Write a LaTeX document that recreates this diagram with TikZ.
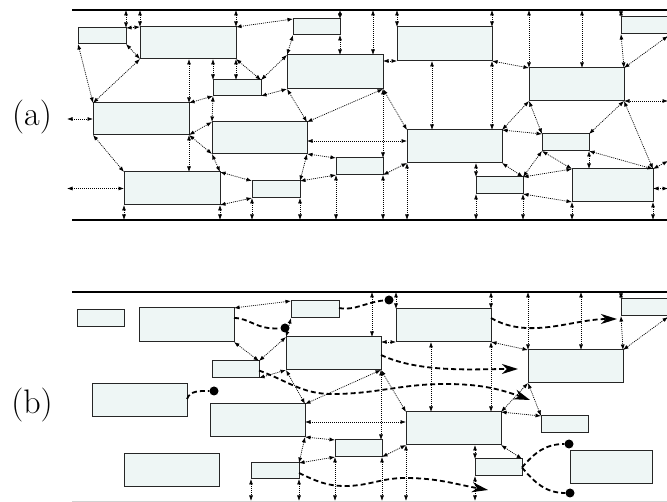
\documentclass[tikz,border=0pt]{standalone}
\usetikzlibrary{arrows.meta,calc}
\definecolor{boxfill}{HTML}{EEF6F5}
\newcommand\mkbox[5]{\node[bx, minimum width={(#4)-(#2)}, minimum height={(#5)-(#3)}] (#1) at ({((#2)+(#4))/2},{((#3)+(#5))/2}) {};}
\begin{document}
\begin{tikzpicture}[x=1pt,y=-1pt,
  bx/.style={draw=black!85, line width=1pt, fill=boxfill, inner sep=0pt, outer sep=0pt},
  con/.style={dash pattern=on 1pt off 1pt, line width=0.7pt, {Latex[length=5.5pt,width=4pt]}-{Latex[length=5.5pt,width=4pt]}},
  rail/.style={line width=2pt},
  flow/.style={dash pattern=on 5pt off 3pt, line width=1.8pt},
  flowarr/.style={flow, -{Stealth[length=16pt,width=10pt,inset=5pt]}},
  blob/.style={circle, fill=black, inner sep=0pt, minimum size=9pt},
  lbl/.style={font=\fontsize{34}{40}\selectfont, inner sep=0pt}]
\useasboundingbox (0,0) rectangle (667,502);
\clip (0,0) rectangle (667,502);

% labels
\node[lbl] (la) at (32,117) {(a)};
\node[lbl] (lb) at (32,405) {(b)};

% rails
\draw[rail] (72,10) -- (667,10);
\draw[rail] (72,220) -- (667,220);
\draw[rail] (72,292) -- (667,292);
\draw[gray!35, line width=1pt] (72,501.5) -- (667,501.5);

\coordinate (ta) at (0,10);
\coordinate (ba) at (0,220);
\coordinate (tb) at (0,292);
\coordinate (bb) at (0,501);
\coordinate (lx) at (67,0);
\coordinate (rx) at (668,0);
\coordinate (h1) at (0,141);
\coordinate (h2) at (0,422);

% ---------------- panel (a) boxes
\mkbox{A1}{78}{28}{126}{44}
\mkbox{A2}{140}{27}{236}{59}
\mkbox{A3}{213}{80}{261}{96}
\mkbox{A4}{293}{19}{340}{35}
\mkbox{A5}{287}{55}{383}{89}
\mkbox{A6}{397}{27}{492}{61}
\mkbox{A7}{529}{68}{624}{101}
\mkbox{A8}{621}{17}{716}{34}
\mkbox{A9}{93}{103}{189}{135}
\mkbox{A10}{124}{172}{220}{205}
\mkbox{A11}{212}{122}{307}{154}
\mkbox{A12}{252}{181}{300}{198}
\mkbox{A13}{336}{158}{383}{175}
\mkbox{A14}{407}{130}{502}{163}
\mkbox{A15}{542}{134}{589}{151}
\mkbox{A16}{476}{177}{523}{194}
\mkbox{A17}{572}{169}{653}{202}

\coordinate (a5t) at ([xshift=-10pt]A5.north east);
\coordinate (a14t) at ([xshift=25pt]A14.north west);
\coordinate (a7t) at ([xshift=53pt]A7.north west);
\coordinate (ra1) at (668,36);
\coordinate (ra2) at (668,161);

% ---------------- panel (a) connectors
\draw[con] (A1.north east |- ta) -- (A1.north east);
\draw[con] (A2.north west |- ta) -- (A2.north west);
\draw[con] (A1.north east) -- (A2.north west);
\draw[con] (A1.south east) -- (A2.south west);
\draw[con] (A1.south west) -- (A9.north west);
\draw[con] (A2.south west) -- (A9.north west);
\draw[con] (A2.north east) -- (A4.north west);
\draw[con] (A2.north east |- ta) -- (A2.north east);
\draw[con] (A9.north east |- A2.south) -- (A9.north east);
\draw[con] (A3.north west |- A2.south) -- (A3.north west);
\draw[con] (A2.south east) -- (A2.south east |- A3.north);
\draw[con] (A2.south east) -- (A3.north east);
\draw[con] (A9.north east) -- (A3.south west);
\draw[con] (A3.south west) -- (A11.north west);
\draw[con] (A9.south east) -- (A11.north west);
\draw[con] (A9.south east) -- (A11.south west);
\draw[con] (A9.south east) -- (A9.south east |- A10.north);
\draw[con] (A9.south west) -- (A10.north west);
\draw[con] (A9.west -| lx) -- (A9.west);
\draw[con] (A10.west -| lx) -- (A10.west);
\draw[con] (A10.south west) -- (A10.south west |- ba);
\draw[con] (A10.south east) -- (A10.south east |- ba);
\draw[con] (A10.north east) -- (A12.north west);
\draw[con] (A10.south east) -- (A12.south west);
\draw[con] (A11.south west) -- (A10.north east);
\draw[con] (A5.south west) -- (A11.north east);
\draw[con] (A5.south east) -- (A11.north east);
\draw[con] (A3.south east) -- (A5.south west);
\draw[con] (A3.north east) -- (A5.north west);
\draw[con] (A5.north west) -- (A4.south west);
\draw[con] (A4.north east |- ta) -- (A4.north east);
\draw[con] (A4.south east) -- (A4.south east |- A5.north);
\draw[con] (a5t |- ta) -- (a5t);
\draw[con] (A6.north west |- ta) -- (A6.north west);
\draw[con] (A6.south west -| A5.east) -- (A6.south west);
\draw[con] (a14t |- A6.south) -- (a14t);
\draw[con] (A5.south east) -- (A5.south east |- A13.north);
\draw[con] (A5.south east) -- (A14.north west);
\draw[con] (A11.east |- h1) -- (A14.west |- h1);
\draw[con] (A11.south east) -- (A13.north west);
\draw[con] (A11.south east) -- (A12.north east);
\draw[con] (A12.north east) -- (A13.south west);
\draw[con] (A13.south east) -- (A14.south west);
\foreach \p in {A12.south west, A12.south east, A13.south west, A13.south east, A14.south west, A16.south west, A16.south east, A17.south west, A17.south east}
  \draw[con] (\p) -- (\p |- ba);
\draw[con] (A6.north east |- ta) -- (A6.north east);
\draw[con] (A7.north west |- ta) -- (A7.north west);
\draw[con] (a7t |- ta) -- (a7t);
\draw[con] (A8.north west |- ta) -- (A8.north west);
\draw[con] (A8.south west) -- (A7.north east);
\draw[con] (ra1) -- (A7.north east);
\draw[con] (A6.south east) -- (A7.north west);
\draw[con] (A6.south east) -- (A6.south east |- A14.north);
\draw[con] (A7.south west) -- (A14.north east);
\draw[con] (A7.south west) -- (A15.north west);
\draw[con] (A7.south east) -- (A15.north east);
\draw[con] (A7.south east) -- (A17.north east);
\draw[con] (A7.south east -| rx) -- (A7.south east);
\draw[con] (A14.north east) -- (A15.north west);
\draw[con] (A14.south east) -- (A16.north east);
\draw[con] (A15.south west) -- (A16.north east);
\draw[con] (A15.south west) -- (A17.north west);
\draw[con] (A15.south east) -- (A15.south east |- A17.north);
\draw[con] (A15.south east) -- (A17.north east);
\draw[con] (A16.north east) -- (A17.north west);
\draw[con] (A16.south east) -- (A17.south west);
\draw[con] ([yshift=-3pt]A17.east -| rx) -- ([yshift=-3pt]A17.east);
\draw[con] (ra2) -- (A17.north east);
\draw[con] (A16.north west |- A14.south) -- (A16.north west);

% ---------------- panel (b) boxes
\mkbox{B1}{77}{310}{124}{327}
\mkbox{B2}{139}{308}{234}{342}
\mkbox{B3}{212}{361}{259}{378}
\mkbox{B4}{291}{301}{339}{318}
\mkbox{B5}{286}{337}{381}{370}
\mkbox{B6}{396}{309}{491}{342}
\mkbox{B7}{621}{299}{716}{316}
\mkbox{B8}{528}{350}{623}{383}
\mkbox{B9}{92}{384}{187}{417}
\mkbox{B10}{210}{404}{305}{437}
\mkbox{B11}{124}{454}{219}{487}
\mkbox{B12}{251}{463}{299}{479}
\mkbox{B13}{335}{440}{382}{457}
\mkbox{B14}{406}{412}{501}{445}
\mkbox{B15}{541}{416}{588}{433}
\mkbox{B16}{475}{459}{522}{476}
\mkbox{B17}{570}{451}{652}{484}

\coordinate (b5t) at ([xshift=-9pt]B5.north east);
\coordinate (b14t) at ([xshift=25pt]B14.north west);
\coordinate (b8t) at ([xshift=53pt]B8.north west);
\coordinate (rb1) at (668,317);

% ---------------- panel (b) connectors
\draw[con] (B2.north east) -- (B4.north west);
\draw[con] (B4.south west) -- (B5.north west);
\draw[con] (B2.south east) -- (B3.north east);
\draw[con] (B3.north east) -- (B5.north west);
\draw[con] (B3.south east) -- (B5.south west);
\draw[con] (b5t |- tb) -- (b5t);
\draw[con] (B6.north west |- tb) -- (B6.north west);
\draw[con] (B6.south west -| B5.east) -- (B6.south west);
\draw[con] (b14t |- B6.south) -- (b14t);
\draw[con] (B6.north east |- tb) -- (B6.north east);
\draw[con] (B6.south east) -- (B8.north west);
\draw[con] (B8.north west |- tb) -- (B8.north west);
\draw[con] (b8t |- tb) -- (b8t);
\draw[con] (B7.north west |- tb) -- (B7.north west);
\draw[con] (B7.south west) -- (B8.north east);
\draw[con] (rb1) -- (B8.north east);
\draw[con] (B6.south east) -- (B6.south east |- B14.north);
\draw[con] (B5.south west) -- (B10.north east);
\draw[con] (B5.south east) -- (B10.north east);
\draw[con] (B5.south east) -- (B5.south east |- B13.north);
\draw[con] (B5.south east) -- (B14.north west);
\draw[con] (B10.east |- h2) -- (B14.west |- h2);
\draw[con] (B10.south east) -- (B13.north west);
\draw[con] (B10.south east) -- (B12.north east);
\draw[con] (B12.north east) -- (B13.south west);
\draw[con] (B13.south east) -- (B14.south west);
\foreach \p in {B12.south west, B12.south east, B13.south west, B13.south east, B14.south west, B16.south west}
  \draw[con] (\p) -- (\p |- bb);
\draw[con] (B16.north west |- B14.south) -- (B16.north west);
\draw[con] (B14.south east) -- (B16.north east);
\draw[con] (B8.south west) -- (B14.north east);
\draw[con] (B8.south west) -- (B15.north west);
\draw[con] (B14.north east) -- (B15.north west);

% ---------------- panel (b) dashed flows
\node[blob] (d1) at (285,328) {};
\node[blob] (d2) at (389,300) {};
\node[blob] (d7) at (214,391) {};
\node[blob] (d8) at (569,444) {};
\node[blob] (d9) at (570,493) {};
\coordinate (e3) at (617,319);
\coordinate (e4) at (518,369);
\coordinate (e5) at (530,400);
\coordinate (e6) at (488,490);

\draw[flow] ([yshift=7pt]B2.east) .. controls (250,318) and (256,330) .. (d1);
\draw[flow] ([yshift=1.5pt]B4.east) .. controls (355,311) and (366,302) .. (d2);
\draw[flowarr] ([yshift=7.5pt]B6.east) to[out=-30,in=180,looseness=0.9] (e3);
\draw[flowarr] ([yshift=-1.5pt]B5.east) to[out=-25,in=180,looseness=0.8] (e4);
\draw[flowarr] ([yshift=-1pt]B3.east) to[out=-20,in=180] (332,394) to[out=0,in=180] (445,384) to[out=0,in=160] (e5);
\draw[flowarr] ([yshift=-2pt]B12.east) to[out=-25,in=180] (345,486) to[out=0,in=180] (405,478) to[out=0,in=170] (e6);
\draw[flow] ([yshift=1.5pt]B9.east) to[out=70,in=180] (d7);
\draw[flow] (B16.east) to[out=50,in=180] (d8);
\draw[flow] (B16.east) to[out=-50,in=180] (d9);
\end{tikzpicture}
\end{document}
